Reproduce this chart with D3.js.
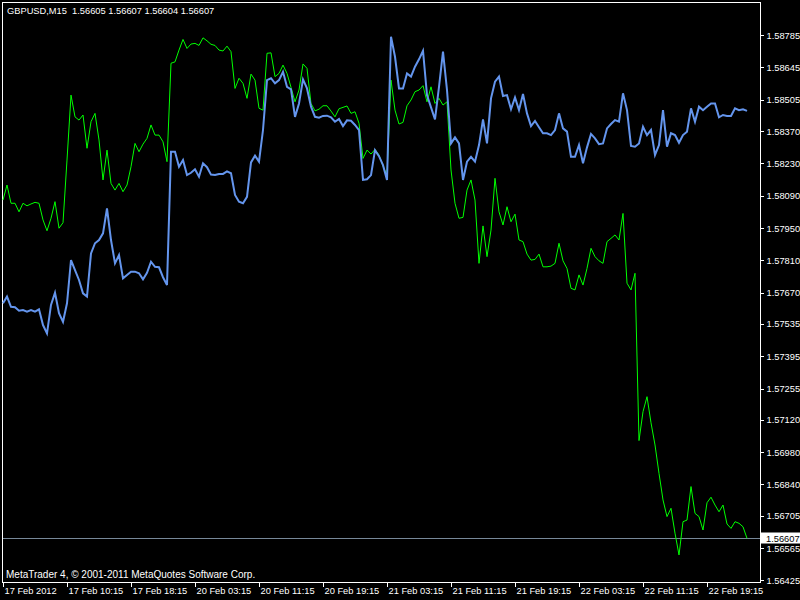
<!DOCTYPE html>
<html><head><meta charset="utf-8">
<script src="https://cdn.jsdelivr.net/npm/d3@7"></script>
<style>html,body{margin:0;padding:0;background:#000;}svg{display:block;}</style>
</head><body>
<svg id="chart" width="800" height="600"></svg>
<script>
const symbolTitle = "GBPUSD,M15";
const lastBar = ["1.56605", "1.56607", "1.56604", "1.56607"];
const copyright = "MetaTrader 4, \u00A9 2001-2011 MetaQuotes Software Corp.";
const timeLabels = ["17 Feb 2012","17 Feb 10:15","17 Feb 18:15","20 Feb 03:15","20 Feb 11:15","20 Feb 19:15","21 Feb 03:15","21 Feb 11:15","21 Feb 19:15","22 Feb 03:15","22 Feb 11:15","22 Feb 19:15"];
const timeTickIdx = [0,16,32,48,64,80,96,112,128,144,160,176];
const priceTicks = [1.58785,1.58645,1.58505,1.58370,1.58230,1.58090,1.57950,1.57810,1.57670,1.57535,1.57395,1.57255,1.57120,1.56980,1.56840,1.56705,1.56565,1.56425];
const priceTickLabels = ["1.58785","1.58645","1.58505","1.58370","1.58230","1.58090","1.57950","1.57810","1.57670","1.57535","1.57395","1.57255","1.57120","1.56980","1.56840","1.56705","1.56565","1.56425"];
const lastPrice = 1.56607;
const lastPriceLabel = "1.56607";
const priceDomain = [1.56418, 1.58928];

// GBPUSD close, one value every 2 bars (30 min)
const greenSeries = [
1.58071,1.58136,1.58057,1.58057,1.58020,1.58057,1.58046,1.58054,1.58061,1.58057,
1.57985,1.57938,1.57992,1.58064,1.57949,1.57973,1.58244,1.58525,1.58431,1.58417,
1.58439,1.58295,1.58410,1.58446,1.58331,1.58158,1.58287,1.58143,1.58114,1.58143,
1.58107,1.58136,1.58215,1.58316,1.58280,1.58313,1.58338,1.58396,1.58352,1.58352,
1.58323,1.58237,1.58663,1.58669,1.58720,1.58766,1.58727,1.58746,1.58749,1.58740,
1.58773,1.58760,1.58745,1.58740,1.58720,1.58716,1.58737,1.58713,1.58554,1.58598,
1.58576,1.58511,1.58616,1.58590,1.58468,1.58460,1.58706,1.58708,1.58605,1.58619,
1.58655,1.58619,1.58559,1.58496,1.58547,1.58660,1.58641,1.58489,1.58457,1.58464,
1.58479,1.58479,1.58456,1.58431,1.58466,1.58472,1.58478,1.58446,1.58453,1.58403,
1.58251,1.58287,1.58270,1.58290,1.58266,1.58218,1.58179,1.58590,1.58460,1.58400,
1.58407,1.58479,1.58504,1.58540,1.58547,1.58566,1.58496,1.58561,1.58489,1.58511,
1.58482,1.58496,1.58201,1.58057,1.57992,1.57996,1.58114,1.58158,1.58071,1.57797,
1.57959,1.57826,1.57941,1.58165,1.58020,1.57963,1.58042,1.57977,1.58010,1.57898,
1.57891,1.57837,1.57811,1.57814,1.57837,1.57782,1.57782,1.57785,1.57797,1.57884,
1.57808,1.57775,1.57689,1.57682,1.57747,1.57703,1.57775,1.57862,1.57826,1.57808,
1.57797,1.57891,1.57905,1.57920,1.57898,1.58013,1.57711,1.57682,1.57754,1.57030,
1.57155,1.57220,1.57107,1.57011,1.56888,1.56773,1.56701,1.56737,1.56629,1.56535,
1.56679,1.56686,1.56831,1.56715,1.56701,1.56643,1.56761,1.56785,1.56751,1.56722,
1.56751,1.56669,1.56650,1.56679,1.56672,1.56657,1.56607];

// overlay series (blue), same sampling, in chart price units
const blueSeries = [
1.57624,1.57653,1.57609,1.57607,1.57592,1.57595,1.57588,1.57595,1.57588,1.57598,
1.57530,1.57494,1.57617,1.57670,1.57581,1.57544,1.57624,1.57811,1.57768,1.57725,
1.57667,1.57653,1.57840,1.57884,1.57898,1.57927,1.58035,1.57898,1.57797,1.57833,
1.57732,1.57747,1.57761,1.57761,1.57754,1.57728,1.57756,1.57804,1.57782,1.57780,
1.57737,1.57703,1.58280,1.58280,1.58215,1.58244,1.58179,1.58189,1.58204,1.58172,
1.58230,1.58213,1.58181,1.58179,1.58184,1.58184,1.58195,1.58187,1.58093,1.58064,
1.58057,1.58085,1.58234,1.58263,1.58237,1.58374,1.58590,1.58598,1.58576,1.58590,
1.58626,1.58561,1.58550,1.58431,1.58489,1.58593,1.58554,1.58475,1.58431,1.58427,
1.58435,1.58436,1.58429,1.58410,1.58422,1.58391,1.58416,1.58414,1.58396,1.58374,
1.58158,1.58161,1.58179,1.58287,1.58261,1.58222,1.58158,1.58778,1.58691,1.58554,
1.58554,1.58619,1.58605,1.58648,1.58680,1.58717,1.58525,1.58472,1.58420,1.58561,
1.58713,1.58547,1.58316,1.58342,1.58316,1.58158,1.58237,1.58258,1.58237,1.58309,
1.58420,1.58316,1.58511,1.58583,1.58605,1.58521,1.58525,1.58464,1.58515,1.58460,
1.58530,1.58446,1.58391,1.58413,1.58386,1.58360,1.58360,1.58352,1.58374,1.58446,
1.58381,1.58367,1.58258,1.58258,1.58309,1.58230,1.58299,1.58357,1.58338,1.58313,
1.58316,1.58381,1.58400,1.58417,1.58410,1.58533,1.58460,1.58305,1.58302,1.58316,
1.58388,1.58352,1.58374,1.58266,1.58309,1.58460,1.58302,1.58360,1.58352,1.58319,
1.58352,1.58367,1.58468,1.58410,1.58475,1.58460,1.58475,1.58489,1.58489,1.58429,
1.58439,1.58435,1.58435,1.58468,1.58460,1.58464,1.58457];

const svg = d3.select("#chart");
const W = 800, H = 600;
const plotL = 2, plotT = 2, plotR = 760, plotB = 582;
const FONT = "'Liberation Sans', Arial, sans-serif";

svg.append("rect").attr("width", W).attr("height", H).attr("fill", "#000");

const x = d3.scaleLinear().domain([0, greenSeries.length - 1]).range([3, 747]);
const y = d3.scaleLinear().domain(priceDomain).range([plotB, plotT]);

// frame
svg.append("rect").attr("x", plotL + 0.5).attr("y", plotT + 0.5)
  .attr("width", plotR - plotL).attr("height", plotB - plotT)
  .attr("fill", "none").attr("stroke", "#fff").attr("stroke-width", 1)
  .attr("shape-rendering", "crispEdges");

// right price axis
const yAxis = d3.axisRight(y).tickValues(priceTicks).tickSize(3).tickPadding(4)
  .tickFormat((d, i) => priceTickLabels[i]);
const ya = svg.append("g").attr("transform", `translate(${plotR + 0.5},0)`).call(yAxis);
ya.select(".domain").remove();
ya.selectAll(".tick line").attr("stroke", "#fff").attr("shape-rendering", "crispEdges");
ya.selectAll(".tick text").attr("fill", "#fff").attr("font-family", FONT).attr("font-size", 9.3)
  .attr("dy", "0.33em").attr("x", 6);

// bottom time axis
const xAxis = d3.axisBottom(x).tickValues(timeTickIdx).tickSize(4).tickPadding(3)
  .tickFormat((d, i) => timeLabels[i]);
const xa = svg.append("g").attr("transform", `translate(0,${plotB + 0.5})`).call(xAxis);
xa.select(".domain").remove();
xa.selectAll(".tick line").attr("stroke", "#fff").attr("shape-rendering", "crispEdges");
xa.selectAll(".tick text").attr("fill", "#fff").attr("font-family", FONT).attr("font-size", 9.3)
  .attr("text-anchor", "start").attr("x", 1).attr("y", 5).attr("dy", "0.71em");

// last price line
const yl = Math.round(y(lastPrice)) + 0.5;
svg.append("line").attr("x1", plotL + 1).attr("x2", plotR).attr("y1", yl).attr("y2", yl)
  .attr("stroke", "#778899").attr("stroke-width", 1).attr("shape-rendering", "crispEdges");
svg.append("rect").attr("x", plotR + 1).attr("y", yl - 6).attr("width", W - plotR - 1).attr("height", 11)
  .attr("fill", "#fff");
svg.append("text").attr("x", plotR + 6).attr("y", yl).attr("dy", "0.33em")
  .attr("fill", "#000").attr("font-family", FONT).attr("font-size", 9.3).text(lastPriceLabel);

// series
const line = d3.line().x((d, i) => x(i)).y(d => y(d));
svg.append("path").datum(greenSeries).attr("d", line).attr("fill", "none")
  .attr("stroke", "#00ff00").attr("stroke-width", 1).attr("stroke-linejoin", "miter");
svg.append("path").datum(blueSeries).attr("d", line).attr("fill", "none")
  .attr("stroke", "#6495ed").attr("stroke-width", 2).attr("stroke-linejoin", "miter");

// texts
svg.append("text").attr("x", 7).attr("y", 14).attr("fill", "#fff").attr("font-family", FONT)
  .attr("font-size", 9.3).attr("xml:space", "preserve")
  .text(symbolTitle + "  " + lastBar.join(" "));
svg.append("text").attr("x", 6).attr("y", 578).attr("fill", "#fff").attr("font-family", FONT)
  .attr("font-size", 10).text(copyright);
</script>
</body></html>
